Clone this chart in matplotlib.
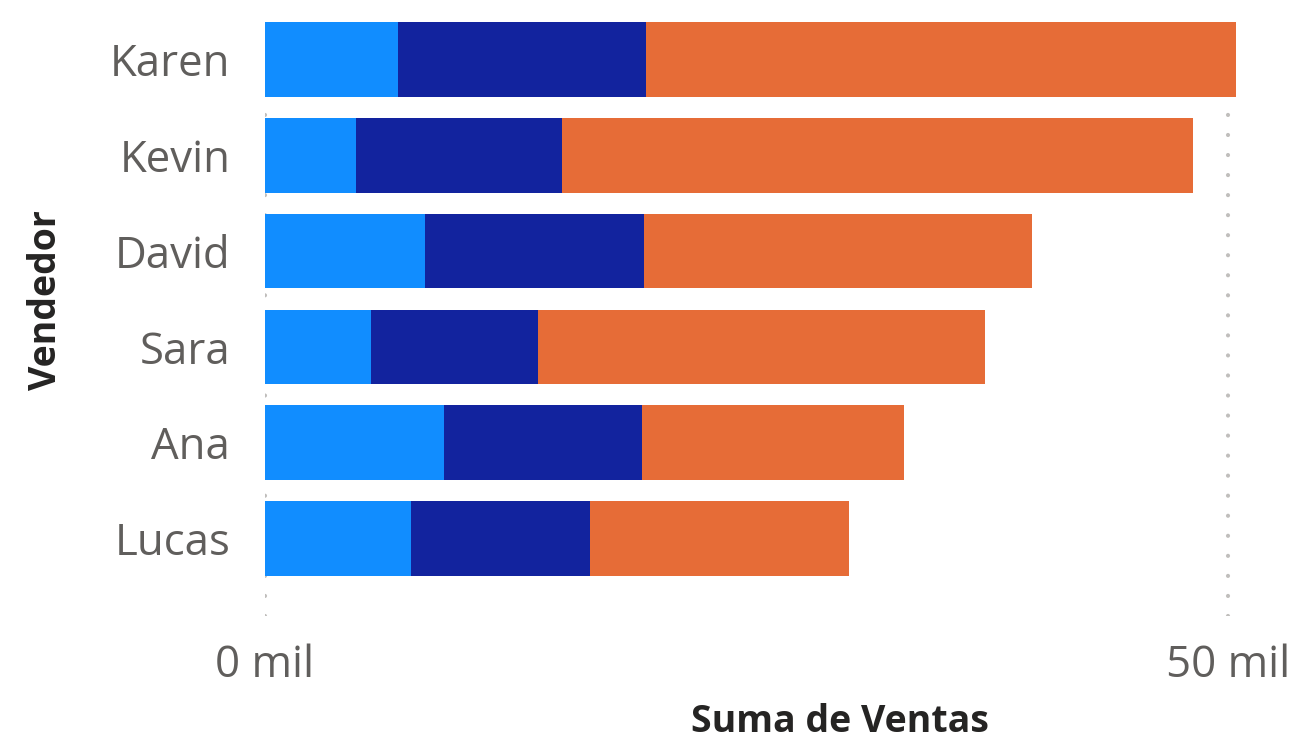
import matplotlib
matplotlib.use("Agg")
import matplotlib.pyplot as plt
import numpy as np

# Datos (miles)
vendedores = ["Karen", "Kevin", "David", "Sara", "Ana", "Lucas"]
serie_a = [6.9, 4.7, 8.3, 5.5, 9.3, 7.6]
serie_b = [12.9, 10.7, 11.4, 8.7, 10.3, 9.3]
serie_c = [30.6, 32.8, 20.1, 23.2, 13.6, 13.4]
ticks_x = [0, 50]
ticks_lbl = ["0 mil", "50 mil"]

colores = ["#118DFF", "#12239E", "#E66C37"]

plt.rcParams['font.family'] = ['Open Sans', 'DejaVu Sans']

fig = plt.figure(figsize=(13.01, 7.45), dpi=100)
W, H = 1301, 745
ax = fig.add_axes([265 / W, 1 - 616 / H, (1240 - 265) / W, (616 - 15) / H])

y = np.arange(len(vendedores))
izq = np.zeros(len(vendedores))
for serie, c in zip([serie_a, serie_b, serie_c], colores):
    ax.barh(y, serie, left=izq, height=0.78, color=c, zorder=2)
    izq = izq + np.array(serie)

ax.set_xlim(0, 50 * 975 / 963)
ax.set_ylim(5.81, -0.465)

# rejilla punteada
for t in ticks_x:
    ax.axvline(t, color="#C0BEBC", lw=3, linestyle=(0, (0.01, 4.8)),
               dash_capstyle="round", zorder=1)

ax.set_xticks(ticks_x)
ax.set_xticklabels(ticks_lbl)
ax.set_yticks(y)
ax.set_yticklabels(vendedores)
ax.tick_params(axis="both", length=0, labelsize=31.5, labelcolor="#605E5C")
ax.tick_params(axis="x", pad=20)
ax.tick_params(axis="y", pad=25)
for s in ax.spines.values():
    s.set_visible(False)

fig.text(46 / W, 1 - 300 / H, "Vendedor", rotation=90, ha="center", va="center",
         fontsize=27, fontweight="bold", color="#252423")
fig.text(840 / W, 1 - 722 / H, "Suma de Ventas", ha="center", va="center",
         fontsize=27, fontweight="bold", color="#252423")

fig.savefig("out.png", dpi=100)
